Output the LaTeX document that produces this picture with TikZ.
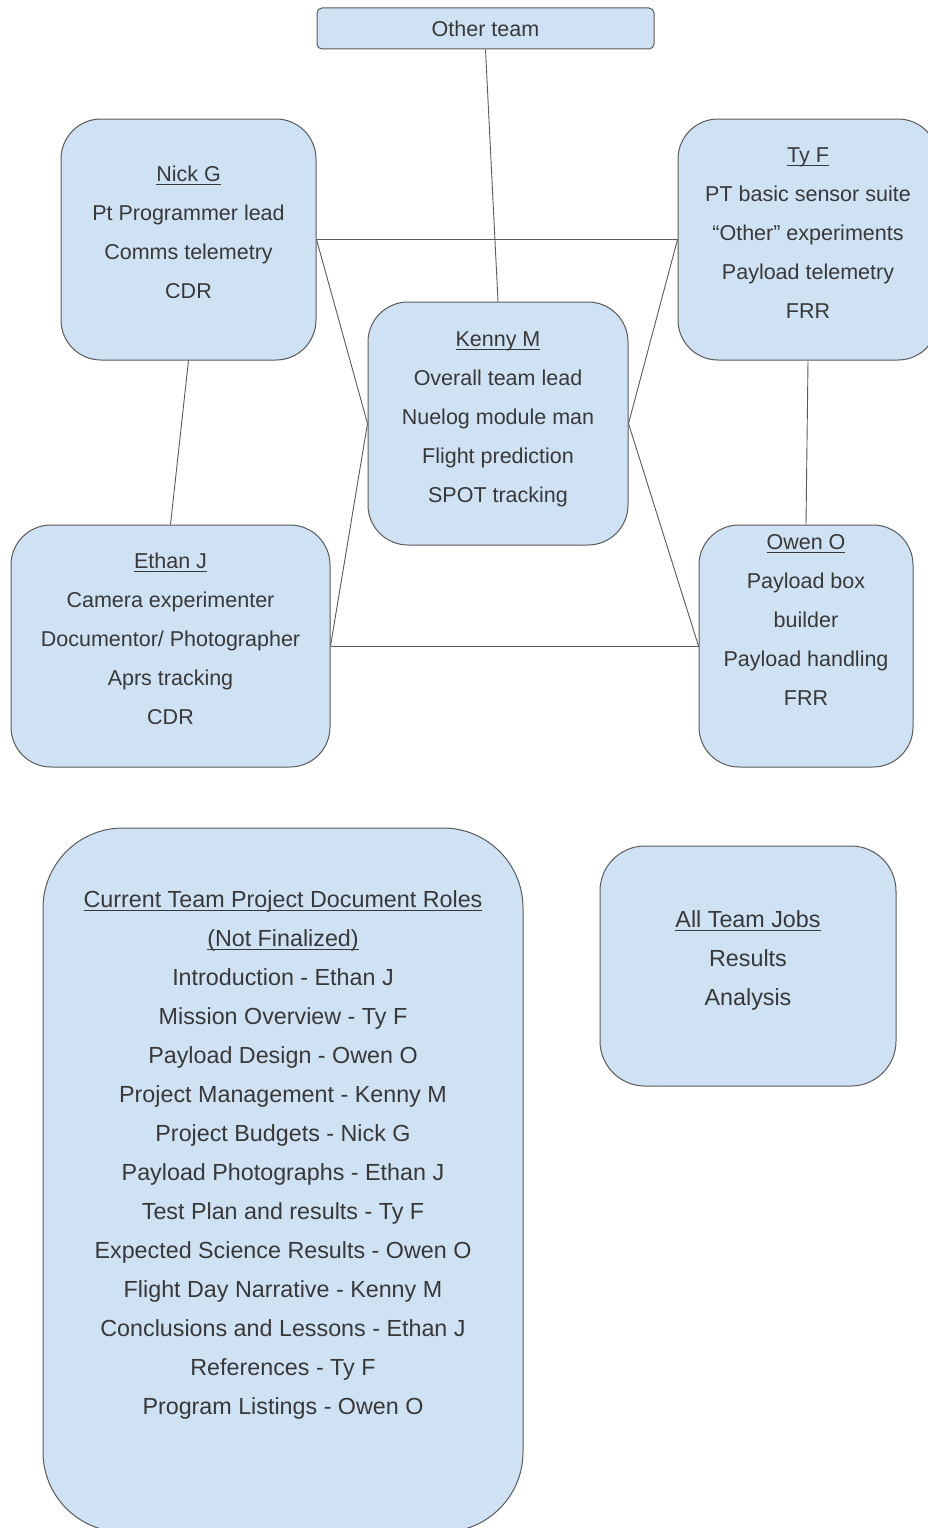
\documentclass[tikz,border=0pt]{standalone}
\usepackage{fontspec}
\setmainfont{Liberation Sans}
\usepackage{tikz}
\definecolor{boxfill}{HTML}{CFE2F3}
\definecolor{boxtext}{HTML}{383838}
\definecolor{boxline}{HTML}{5A5A5A}
\newcommand{\rolelist}[1]{\begin{tabular}{@{}c@{}}#1\\[14pt]\end{tabular}}
\newsavebox{\headbox}
\newcommand{\rolehead}[1]{\sbox{\headbox}{#1}\rlap{\rule[-3.5pt]{\wd\headbox}{1.1pt}}\usebox{\headbox}}

\begin{document}
\begin{tikzpicture}[x=1pt, y=-1pt,
  main/.style = {draw=boxline, line width=1pt, fill=boxfill, text=boxtext, rounded corners=40pt, inner sep=0pt, font=\fontsize{21.5}{39}\selectfont},
  lower/.style = {main, font=\fontsize{23.3}{39}\selectfont},
  link/.style = {draw=boxline, line width=0.9pt}]
  \useasboundingbox (0,0) rectangle (928,1528);
  % Define nodes
  \node[main, rounded corners=5pt, minimum width=337pt, minimum height=41pt] (other) at (485.5,28.5) {Other team};
  \node[main, minimum width=255pt, minimum height=241pt] (nick) at (188.5,239.5) {\rolelist{\rolehead{Nick G}\\ Pt Programmer lead\\ Comms telemetry\\ CDR}};
  \node[main, minimum width=260pt, minimum height=241pt] (ty) at (808,239.5) {\rolelist{\rolehead{Ty F}\\ PT basic sensor suite\\ “Other” experiments\\ Payload telemetry\\ FRR}};
  \node[main, minimum width=260pt, minimum height=243pt] (kenny) at (498,423.5) {\rolelist{\rolehead{Kenny M}\\ Overall team lead\\ Nuelog module man\\ Flight prediction\\ SPOT tracking}};
  \node[main, minimum width=319pt, minimum height=242pt] (ethan) at (170.5,646) {\rolelist{\rolehead{Ethan J}\\ Camera experimenter\\ Documentor/ Photographer\\ Aprs tracking\\ CDR}};
  \node[main, inner ysep=-4pt, minimum width=214pt, minimum height=242pt] (owen) at (806,646) {\rolelist{\rolehead{Owen O}\\ Payload box\\ builder\\ Payload handling\\ FRR\\ }};
  \node[lower, rounded corners=80pt, minimum width=480pt, minimum height=704pt] (docs) at (283,1180) {\rolelist{\rolehead{Current Team Project Document Roles}\\ \rolehead{(Not Finalized)}\\ Introduction - Ethan J\\ Mission Overview - Ty F\\ Payload Design - Owen O\\ Project Management - Kenny M\\ Project Budgets - Nick G\\ Payload Photographs - Ethan J\\ Test Plan and results - Ty F\\ Expected Science Results - Owen O\\ Flight Day Narrative - Kenny M\\ Conclusions and Lessons - Ethan J\\ References - Ty F\\ Program Listings - Owen O\\ }};
  \node[lower, rounded corners=45pt, minimum width=296pt, minimum height=240pt] (jobs) at (748,966) {\rolelist{\rolehead{All Team Jobs}\\ Results\\ Analysis}};
  % Add edges
  \draw[link] (other.south) -- (kenny.north);
  \draw[link] (nick.east) -- (ty.west);
  \draw[link] (nick.east) -- (kenny.west);
  \draw[link] (ty.west) -- (kenny.east);
  \draw[link] (nick.south) -- (ethan.north);
  \draw[link] (ty.south) -- (owen.north);
  \draw[link] (ethan.east) -- (owen.west);
  \draw[link] (ethan.east) -- (kenny.west);
  \draw[link] (owen.west) -- (kenny.east);
\end{tikzpicture}
\end{document}
